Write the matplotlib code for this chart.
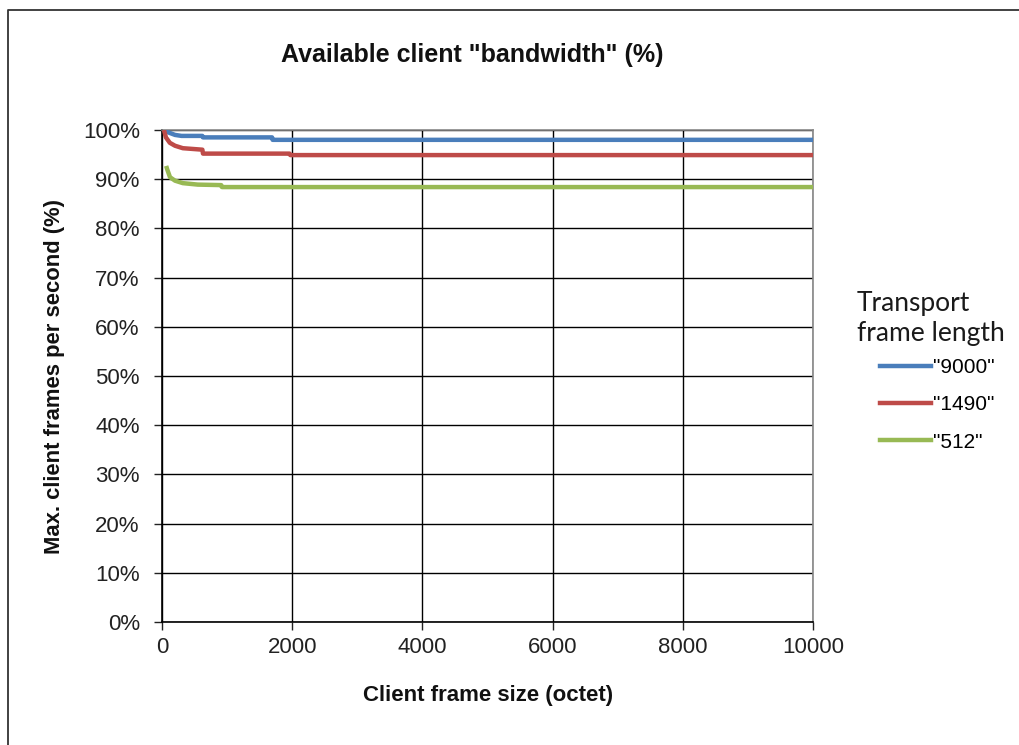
import matplotlib
matplotlib.use("Agg")
import matplotlib.pyplot as plt
from matplotlib.lines import Line2D
from matplotlib.ticker import FuncFormatter

# values (client frame size in octets, percentage)
x_9000 = [30, 100, 200, 300, 620, 630, 1690, 1700, 10000]
y_9000 = [100.0, 99.5, 99.0, 98.8, 98.8, 98.5, 98.5, 98.0, 98.0]

x_1490 = [30, 60, 120, 200, 320, 620, 630, 1960, 1970, 10000]
y_1490 = [100.0, 98.5, 97.4, 96.8, 96.3, 96.0, 95.2, 95.2, 94.9, 94.9]

x_512 = [64, 80, 123, 200, 320, 550, 910, 920, 10000]
y_512 = [92.7, 92.0, 90.4, 89.7, 89.2, 88.9, 88.8, 88.4, 88.4]

labels = ['"9000"', '"1490"', '"512"']
colors = ["#4A7EBB", "#BE4B48", "#98B954"]

plt.rcParams['font.family'] = ['Liberation Sans', 'DejaVu Sans']

W, H = 1019, 745
fig = plt.figure(figsize=(W / 100, H / 100), dpi=100)
ax = fig.add_axes([162 / W, 1 - 622 / H, (813 - 162) / W, (622 - 130) / H])

series = [(x_9000, y_9000), (x_1490, y_1490), (x_512, y_512)]
for (xs, ys), lab, col in zip(series, labels, colors):
    ax.plot(xs, ys, color=col, lw=3.2, label=lab, solid_capstyle='butt', zorder=3)

ax.set_xlim(0, 10000)
ax.set_ylim(0, 100)
ax.set_xticks(range(0, 10001, 2000))
ax.set_yticks(range(0, 101, 10))
ax.yaxis.set_major_formatter(FuncFormatter(lambda v, p: "%d%%" % v))
ax.grid(True, color="black", lw=1.0, zorder=1)
ax.set_axisbelow(True)
ax.tick_params(labelsize=16, colors="#222222", length=6, width=1.0, direction="out")
ax.tick_params(axis="y", pad=10)
ax.tick_params(axis="x", pad=5)
for s in ["top", "right"]:
    ax.spines[s].set_color("#888888")
    ax.spines[s].set_linewidth(1.2)
for s in ["left", "bottom"]:
    ax.spines[s].set_color("black")
    ax.spines[s].set_linewidth(1.2)

fig.text(472 / W, 1 - 55 / H, 'Available client "bandwidth" (%)', ha="center", va="center",
         fontsize=18, fontweight="bold", color="#111111")
fig.text(488 / W, 1 - 695 / H, "Client frame size (octet)", ha="center", va="center",
         fontsize=16, fontweight="bold", color="#111111")
fig.text(55 / W, 1 - 377 / H, "Max. client frames per second (%)", ha="center", va="center",
         rotation=90, fontsize=15.8, fontweight="bold", color="#111111")

# legend
fig.text(857 / W, 1 - 318 / H, "Transport\nframe length", ha="left", va="center",
         fontsize=19, family=["Lato", "DejaVu Sans"], color="#1a1a1a", linespacing=1.25)
handles = [Line2D([], [], color=c, lw=3.2) for c in colors]
leg = fig.legend(handles, labels, loc="upper left", bbox_to_anchor=(880 / W, 1 - 358 / H),
                 frameon=False, fontsize=15, handlelength=2.45, handletextpad=0.1,
                 labelspacing=0.88, borderpad=0, borderaxespad=0)

# chart border (left and top edges are visible)
fig.add_artist(Line2D([8 / W, 8 / W, 1.0], [0.0, 1 - 10 / H, 1 - 10 / H],
                      transform=fig.transFigure, color="#333333", lw=1.3))

fig.savefig("out.png", dpi=100)
